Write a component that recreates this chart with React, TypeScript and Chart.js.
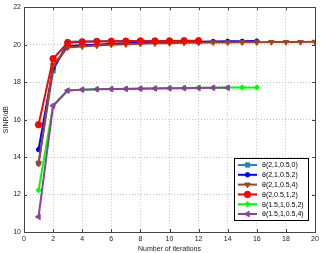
import React, { useEffect, useRef } from "react";
import { Chart, registerables } from "chart.js";
import { drawPoint } from "chart.js/helpers";

Chart.register(...registerables);

const iterations = [1, 2, 3, 4, 5, 6, 7, 8, 9, 10, 11, 12, 13, 14, 15, 16, 17, 18, 19, 20];
const xTicks = [0, 2, 4, 6, 8, 10, 12, 14, 16, 18, 20];
const yTicks = [10, 12, 14, 16, 18, 20, 22];

const labels = [
  "θ(2,1,0.5,0)",
  "θ(2,1,0.5,2)",
  "θ(2,1,0.5,4)",
  "θ(2,0.5,1,2)",
  "θ(1.5,1,0.5,2)",
  "θ(1.5,1,0.5,4)",
];

const s1 = [13.68, 18.6, 20.15, 20.17, 20.18, 20.18, 20.19, 20.19, 20.2, 20.2];
const s2 = [14.4, 18.77, 19.93, 19.97, 20.0, 20.05, 20.08, 20.1, 20.12, 20.14, 20.15, 20.16, 20.17, 20.18, 20.18, 20.19];
const s3 = [13.64, 18.9, 19.85, 19.9, 19.95, 20.0, 20.02, 20.05, 20.07, 20.08, 20.1, 20.1, 20.12, 20.12, 20.13, 20.13, 20.14, 20.14, 20.14, 20.15];
const s4 = [15.73, 19.25, 20.1, 20.15, 20.17, 20.18, 20.19, 20.2, 20.2, 20.2, 20.21, 20.21];
const s5 = [12.23, 16.75, 17.55, 17.6, 17.62, 17.63, 17.65, 17.66, 17.67, 17.68, 17.69, 17.7, 17.7, 17.71, 17.72, 17.72];
const s6 = [10.81, 16.74, 17.55, 17.6, 17.62, 17.63, 17.64, 17.65, 17.66, 17.67, 17.68, 17.69, 17.7, 17.7];

const seriesValues = [s1, s2, s3, s4, s5, s6];
const colors = ["#2580C8", "#0000FF", "#A0461E", "#FF0000", "#00FF00", "#8E3FA0"];
const pointStyles: any[] = ["rect", "circle", "triangle", "circle", "rectRot", "triangle"];
const rotations = [0, 0, 180, 0, 0, 270];
const radii = [3, 2.2, 3.2, 3.2, 2.6, 3.2];

const FONT = "'Liberation Sans', Arial, sans-serif";

const framePlugin = {
  id: "frame",
  afterDraw(chart: any) {
    const { ctx, chartArea } = chart;
    const { left, right, top, bottom } = chartArea;
    const xs = chart.scales.x;
    const ys = chart.scales.y;
    ctx.save();
    ctx.strokeStyle = "#444";
    ctx.lineWidth = 1;
    ctx.setLineDash([]);
    ctx.strokeRect(Math.round(left) + 0.5, Math.round(top) + 0.5, Math.round(right - left), Math.round(bottom - top));
    ctx.beginPath();
    const t = 3;
    xTicks.forEach((v) => {
      const px = Math.round(xs.getPixelForValue(v)) + 0.5;
      ctx.moveTo(px, bottom);
      ctx.lineTo(px, bottom - t);
      ctx.moveTo(px, top);
      ctx.lineTo(px, top + t);
    });
    yTicks.forEach((v) => {
      const py = Math.round(ys.getPixelForValue(v)) + 0.5;
      ctx.moveTo(left, py);
      ctx.lineTo(left + t, py);
      ctx.moveTo(right, py);
      ctx.lineTo(right - t, py);
    });
    ctx.stroke();

    // legend
    const bx = 234, by = 158, bw = 74, bh = 62;
    ctx.fillStyle = "#fff";
    ctx.fillRect(bx, by, bw, bh);
    ctx.strokeStyle = "#000";
    ctx.strokeRect(bx + 0.5, by + 0.5, bw, bh);
    ctx.font = `7px ${FONT}`;
    ctx.textBaseline = "middle";
    ctx.textAlign = "left";
    labels.forEach((lab, i) => {
      const y = by + 7 + i * 9.8;
      ctx.strokeStyle = colors[i];
      ctx.lineWidth = 2;
      ctx.beginPath();
      ctx.moveTo(238, y);
      ctx.lineTo(257, y);
      ctx.stroke();
      ctx.fillStyle = colors[i];
      ctx.strokeStyle = colors[i];
      ctx.lineWidth = 1;
      drawPoint(ctx, { pointStyle: pointStyles[i], rotation: rotations[i], radius: radii[i], borderWidth: 1 } as any, 247.5, y);
      ctx.fillStyle = "#000";
      ctx.fillText(lab, 262, y + 0.5);
    });
    ctx.restore();
  },
};

export default function App() {
  const ref = useRef<HTMLCanvasElement>(null);
  useEffect(() => {
    document.body.style.margin = "0";
    const datasets = seriesValues.map((vals, i) => ({
      label: labels[i],
      data: vals.map((v, j) => ({ x: iterations[j], y: v })),
      borderColor: colors[i],
      backgroundColor: colors[i],
      pointBackgroundColor: colors[i],
      pointBorderColor: colors[i],
      borderWidth: 2,
      pointStyle: pointStyles[i],
      pointRotation: rotations[i],
      pointRadius: radii[i],
      pointBorderWidth: 1,
      tension: 0,
      order: 6 - i,
    }));
    const gridOpts: any = {
      color: "#c4c4c4",
      lineWidth: 1,
      drawTicks: false,
      borderDash: [1, 2],
    };
    const chart = new Chart(ref.current!, {
      type: "line",
      data: { datasets },
      options: {
        animation: false,
        responsive: false,
        events: [],
        layout: { padding: { top: 6, right: 18, left: 2, bottom: 0 } },
        plugins: { legend: { display: false }, tooltip: { enabled: false } },
        scales: {
          x: {
            type: "linear",
            min: 0,
            max: 20,
            afterBuildTicks: (s: any) => {
              s.ticks = xTicks.map((v) => ({ value: v }));
            },
            afterFit: (s: any) => {
              s.height = 21;
            },
            grid: gridOpts,
            border: { display: false, dash: [1, 2] },
            ticks: { color: "#222", font: { size: 7, family: FONT }, padding: 3, maxRotation: 0 },
            title: {
              display: true,
              text: "Number of iterations",
              color: "#222",
              font: { size: 7, family: FONT },
              padding: { top: 0, bottom: 0 },
            },
          },
          y: {
            type: "linear",
            min: 10,
            max: 22,
            afterBuildTicks: (s: any) => {
              s.ticks = yTicks.map((v) => ({ value: v }));
            },
            afterFit: (s: any) => {
              s.width = 22;
            },
            grid: gridOpts,
            border: { display: false, dash: [1, 2] },
            ticks: { color: "#222", font: { size: 7, family: FONT }, padding: 3 },
            title: {
              display: true,
              text: "SINR/dB",
              color: "#222",
              font: { size: 7, family: FONT },
              padding: { top: 0, bottom: 0 },
            },
          },
        },
      },
      plugins: [framePlugin],
    } as any);
    return () => chart.destroy();
  }, []);
  return <canvas ref={ref} width={333} height={253} style={{ display: "block" }} />;
}
